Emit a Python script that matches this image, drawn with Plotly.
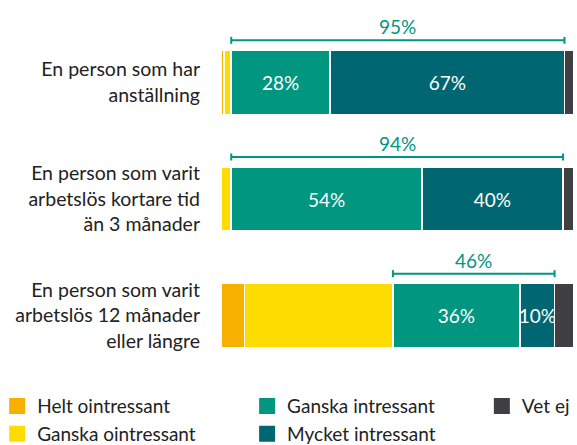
import plotly.graph_objects as go

categories = [
    "En person som har<br>anställning",
    "En person som varit<br>arbetslös kortare tid<br>än 3 månader",
    "En person som varit<br>arbetslös 12 månader<br>eller längre",
]
series_names = ["Helt ointressant", "Ganska ointressant", "Ganska intressant", "Mycket intressant", "Vet ej"]
helt_ointressant = [0.9, 0.0, 6.7]
ganska_ointressant = [2.0, 2.9, 42.0]
ganska_intressant = [28.0, 54.0, 36.0]
mycket_intressant = [66.4, 40.0, 9.8]
vet_ej = [2.7, 3.1, 5.5]
ganska_labels = ["28%", "54%", "36%"]
mycket_labels = ["67%", "40%", "10%"]
total_interest_labels = ["95%", "94%", "46%"]

colors = ["#F7B000", "#FFDC00", "#00967F", "#006671", "#404042"]
legend_ids = ["legend", "legend", "legend2", "legend2", "legend3"]
series = [helt_ointressant, ganska_ointressant, ganska_intressant, mycket_intressant, vet_ej]
texts = [None, None, ganska_labels, mycket_labels, None]

FONT = "Lato, 'Open Sans', sans-serif"
fig = go.Figure()
for name, vals, col, lg, tx in zip(series_names, series, colors, legend_ids, texts):
    fig.add_trace(go.Bar(
        y=categories, x=vals, name=name, orientation="h",
        marker=dict(color=col, line=dict(color="white", width=1.5)),
        text=tx, textposition="inside" if tx else "none",
        insidetextanchor="middle", constraintext="none", textangle=0,
        textfont=dict(color="white", size=19, family=FONT),
        showlegend=False, hoverinfo="skip",
    ))
# legend entries (square swatches)
for name, col, lg in zip(series_names, colors, legend_ids):
    fig.add_trace(go.Scatter(
        x=[None], y=[None], mode="markers", name=name, legend=lg,
        marker=dict(symbol="square", size=18, color=col), hoverinfo="skip",
    ))

teal = "#00967F"
for i, cat in enumerate(categories):
    x0 = helt_ointressant[i] + ganska_ointressant[i]
    x1 = x0 + ganska_intressant[i] + mycket_intressant[i]
    yb = i - 0.36
    fig.add_shape(type="line", x0=x0, x1=x1, y0=yb, y1=yb, xref="x", yref="y",
                  line=dict(color=teal, width=2))
    for xe in (x0, x1):
        fig.add_shape(type="line", x0=xe, x1=xe, y0=yb - 0.03, y1=yb + 0.03, xref="x", yref="y",
                      line=dict(color=teal, width=2))
    fig.add_annotation(x=(x0 + x1) / 2, y=i - 0.475, xref="x", yref="y", text=total_interest_labels[i],
                       showarrow=False, font=dict(color=teal, size=19, family=FONT))

leg_common = dict(xref="paper", yref="container", y=0.13, yanchor="top", xanchor="left",
                  font=dict(size=19, color="#222222"), traceorder="normal", tracegroupgap=0,
                  bgcolor="rgba(0,0,0,0)", itemsizing="trace")
fig.update_layout(
    width=577, height=445,
    margin=dict(l=221, r=3, t=24, b=71, autoexpand=False),
    barmode="stack", bargap=0.45,
    plot_bgcolor="white", paper_bgcolor="white",
    font=dict(family=FONT, size=19, color="#222222"),
    xaxis=dict(range=[0, 100], visible=False, fixedrange=True),
    yaxis=dict(range=[2.5, -0.5], autorange=False, showgrid=False, showline=False, ticks="",
               automargin=False, ticklabelstandoff=20, tickfont=dict(size=19.5, color="#222222"),
               fixedrange=True),
    legend=dict(x=-0.634, **leg_common),
    legend2=dict(x=0.074, **leg_common),
    legend3=dict(x=0.739, **leg_common),
    showlegend=True,
)

fig.write_html("out.html", config={"displayModeBar": False},
               post_script="document.body.style.margin='0';")
